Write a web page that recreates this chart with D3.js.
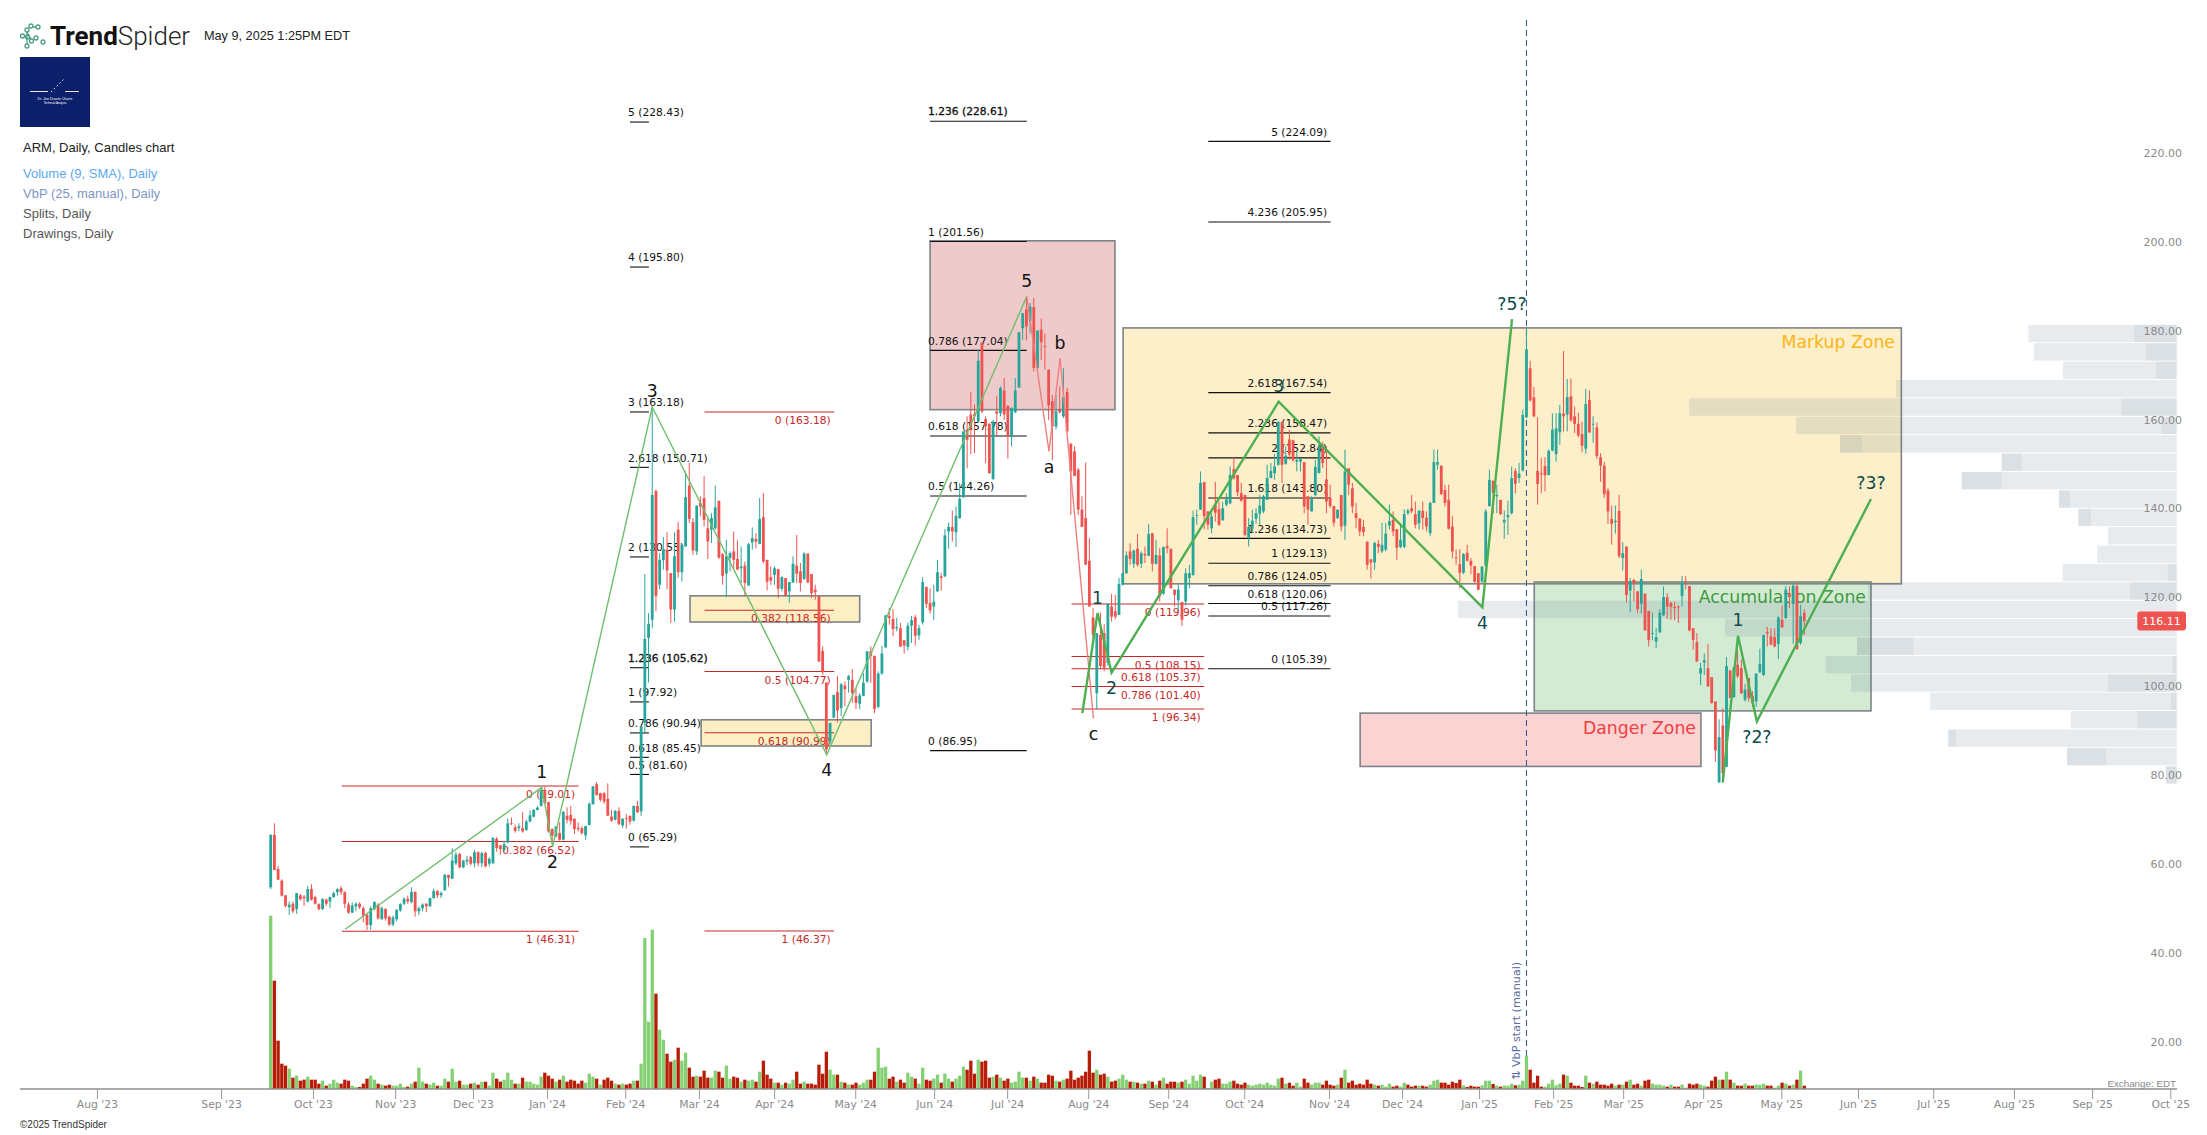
<!DOCTYPE html>
<html><head><meta charset="utf-8">
<script src="https://cdnjs.cloudflare.com/ajax/libs/d3/7.8.5/d3.min.js"></script>
<style>html,body{margin:0;padding:0;background:#fff;overflow:hidden}svg{display:block}</style>
</head><body><div id="chart"></div>
<script>
// Daily candles [open, high, low, close], ARM
const candles=[
[56.2,68.1,55.8,68],[68,70.6,60.1,60.1],[60.3,61,57.9,57.9],[57.7,58,54.1,54.3],[54.4,54.4,51.7,52],[51.7,53,50,52.3],[52.5,53,50.4,50.8],[51.3,54.9,50.2,54.9],[54.4,54.7,53.2,53.5],[54.1,54.5,52,53.7],
[53,56.5,52.8,55.8],[55.8,56.9,53.2,53.4],[54,54.3,52.3,52.5],[52.4,52.6,51,51.3],[51.3,53.7,51.1,53.6],[53.4,53.7,52,52.5],[53,54.1,51.5,54],[54,55.2,53.8,54.9],[55.1,56,54.3,55.8],[56,56.5,54.5,55.1],
[55.1,55.3,51.5,52.5],[52.3,52.8,50.2,50.5],[50.5,52.8,50.4,52.1],[51.9,52.8,50.8,52.5],[52.5,52.8,51.3,51.7],[51.5,51.9,48.3,49.8],[50,50.4,46.6,47.7],[47.7,51.9,46.6,51.5],[51.3,53,51,52.9],[52.3,52.6,48.9,49.2],
[49,51.9,48.9,51.5],[51.3,51.5,48.7,49.2],[49.6,49.8,47.5,47.8],[47.8,49.8,47.4,49.4],[49,51.3,48.5,51.1],[51,52.6,50.7,52.4],[52.5,54,52.2,53.6],[53.6,54.3,52.5,53],[52.9,56.2,52.6,55.1],[55.2,55.2,49.6,50.8],
[50.8,51.9,50,51.5],[51.5,52.6,50.8,52.3],[52.5,52.6,50.6,51.9],[51.9,53.8,51.9,53.8],[53.8,55.9,53.6,55.4],[55.3,55.6,53.8,54.4],[54.4,55.3,53.8,54.9],[55.5,59.2,55.5,59],[59,59,56.4,58.3],[58.1,65,58.1,62.2],
[61.6,64.2,61.2,63.6],[63.7,63.9,60.5,60.7],[60.7,62.4,60.5,62.2],[62,63.3,61.2,62.4],[63,63.3,61.1,61.5],[61.6,64.6,60.7,64.1],[64.1,64.3,60.9,61.6],[61.6,64.2,60.7,63.9],[63.9,64.2,60.7,60.9],[61.5,63,60.9,62.6],
[61.6,67.5,61.5,67.3],[67.1,67.5,64.2,65],[65.6,65.8,63.5,64.8],[64.6,66.7,64.2,65.9],[66.3,71.7,66.1,70.6],[70.6,71.9,70.2,70.5],[69.7,70.3,68.5,68.9],[69.5,70.6,68.8,69.9],[69.5,73.1,68.5,68.8],[69.1,71.4,68.9,71],
[71,73.5,70.8,72.4],[72.1,73.8,71.9,73.6],[73.6,74.5,73.5,74.1],[74.5,78.7,74.4,78],[77.8,78.9,75,75.1],[75.4,75.4,68.5,68.8],[69.3,69.5,66.5,67.8],[67.6,69.9,67.5,69.9],[68.4,70.8,66.7,66.9],[66.9,73.3,66.7,73.2],
[72.3,74.2,70.6,71.4],[72.5,74.5,70.3,71.1],[71.6,71.8,68.2,69.3],[69.6,70.8,68.8,69.3],[69.5,69.9,68,68.4],[67.9,70,66.9,70],[70.2,75.3,70.2,75],[74.9,79,74.8,78.9],[79.4,79.9,76.8,77],[77.4,77.5,75.5,75.9],
[77.4,77.6,75,75.5],[76.1,79.6,72.3,72.3],[72.1,73.6,70.9,71.2],[71.4,73.6,71.2,73.4],[73.4,74.2,70.2,70.4],[70.1,71.8,69.6,71.6],[71.8,72.7,69.4,71.6],[72.3,72.3,70.3,71],[71.2,74.6,71,74.5],[74.5,75.7,72.9,73.1],
[73.3,92.4,72.3,92.4],[93.2,126.7,90.9,112.1],[112.3,117.9,102.3,115.5],[116.4,164.4,114.5,144.5],[145.4,145.7,118.3,121.8],[124.3,131.4,123.3,129.9],[129.8,135,127.7,132.2],[132.2,136.1,123.3,127.5],[126.9,126.9,115.7,118.7],[118.7,136.1,116,130.7],
[136.7,138.4,125.9,127.1],[127.1,133.3,125,133.3],[132.9,149.8,132.9,144],[146.6,151.7,138.2,139.1],[138.4,139.3,131,132],[131.8,142.1,131,142.1],[142.7,144.2,139.7,141.9],[143.8,148.7,137.4,138.9],[137,139.3,130.1,134],[136.7,140.4,133.7,139.3],
[137,146.6,136.7,141.7],[143.2,143.2,130.1,130.4],[131.2,131.4,124.3,126.3],[126.8,134.4,121.5,130.7],[130.3,131.8,127.3,131.4],[131.8,136.3,127.7,129.9],[130.1,134.3,127.7,127.7],[128,132.9,124.7,128.4],[128.6,129.5,121.7,124.7],[124.1,133.7,124.1,133.4],
[133.8,137.2,132.2,134.8],[134.6,135.9,132.5,134],[133.5,143.8,133.4,139.1],[139.5,144.9,129.2,129.5],[129.9,129.9,123,125],[126,128.4,124.3,125.2],[126.5,128.4,124.3,128],[127.8,127.8,121.3,123.4],[123.4,126.2,122.8,126],[125.8,125.8,121.7,121.9],
[122.8,125,120.2,124.9],[124.8,130.7,124.7,129],[128.6,135.5,124.7,126.8],[127.3,129.2,122.8,124.7],[125.6,131.6,125.4,131.3],[131.3,131.3,124.7,124.8],[126.7,126.7,121.3,122.4],[123.2,124.3,120.9,122.6],[121.7,121.7,107,107],[109.4,110.4,104,104.6],
[102.3,102.3,86.4,87.2],[89,93.2,88.3,93.2],[94.4,99.5,94.3,99.5],[100.1,103.8,93.3,96],[96.5,102.2,94.7,101.9],[101.6,102.5,96.9,100.8],[102.9,104,100,103.7],[102.9,105.3,97.7,99.9],[99.2,101,96.3,97.7],[97.5,99.9,96.3,99.4],
[99.3,104.4,99.2,102.2],[102.5,109.3,102.2,109.3],[109.3,110.4,102.2,108.3],[108.3,108.3,95.4,96.3],[96.8,104.8,96.5,104.3],[104.3,110.5,104,108.8],[110.2,117.5,110,117.4],[117.2,119,115.3,116.8],[116.6,118.8,112.7,114.3],[114.5,116.8,113.8,114.8],
[114.5,115.7,110.3,110.4],[111.8,111.9,108.8,110.6],[110.3,115.8,109.5,115.1],[115.1,117.3,111.2,116.3],[117,117.5,110.6,112.8],[112.9,115.3,111.9,114.5],[115.8,126,115.3,124.9],[123.8,123.8,119,120],[120.2,123.5,117.8,118.5],[119.4,124.3,116.3,120.5],
[122.8,129.9,122.7,127.1],[126.2,127,123,125.8],[126.2,136.8,126,135.4],[136.3,138.3,132.4,137.3],[137.3,141,134,136.3],[136.1,141.9,132.8,139.8],[139.3,147.2,139.1,143.6],[144,158.8,143.8,158.8],[159.2,162.2,150.5,156.9],[162.6,167.7,153.7,159.2],
[162.7,164.8,153.9,162.2],[161,177.3,160.7,174.7],[178.8,178.8,162.9,163.3],[161.6,162.2,151.7,159.9],[160.5,160.7,149.3,149.4],[148.1,161.4,147.9,161],[163.3,166.8,157.7,162.8],[162.9,168.9,162.2,168.6],[168,170.8,161.4,162.6],[164.6,164.6,152.7,157.7],
[157.5,164.2,155.4,164.1],[163.1,170.8,162.9,168],[168.7,181.1,168.6,181.1],[182,185.4,179.4,185.4],[186.3,189.2,179.3,182.4],[183.6,187.7,180.9,186.9],[186.8,188.8,172.3,173.1],[173.1,181.5,172.7,181.5],[181.7,184.2,174.9,178.9],[178,180.9,172.7,177.8],
[172.7,172.7,161.4,164.7],[165.6,167,152.3,159.9],[159.9,167,159.2,163.3],[163.7,168.9,162.8,163.1],[162.2,173,161.8,166.5],[167.7,168.6,158.7,158.8],[156,156.2,140,149.8],[154.3,155.4,148.7,148.8],[150.2,150.6,140,141.2],[141.2,144.2,137.3,137.3],
[139.3,151.8,128.8,128.8],[129.7,134.8,119.4,119.4],[116.9,119,110.8,113],[99.9,113.4,96.3,113.4],[113,118,105.2,106],[113.4,115.4,104.8,105.6],[106.7,120.1,106,120],[119.4,122.2,116,117.1],[118.3,122,116.5,117.1],[117.5,125.8,117.5,124.5],
[124.3,126.9,124.1,126.9],[126.9,131.8,126.7,130.9],[131.8,133.6,128.8,130.1],[129,132.2,128,132],[132.4,135.7,128.4,128.8],[129,131.8,128,131.4],[131.2,132.9,129.2,130.9],[130.8,138,130.7,135.7],[135.9,135.9,127.3,129],[129,134.4,128.8,131],
[130.9,132.5,120.5,121.7],[122.3,132.8,122,132.8],[133,137,131.4,132.5],[132.4,132.4,123.5,123.5],[123.2,123.2,119.4,122],[120.8,124.3,118.3,123.2],[120.4,120.4,115,116.4],[120.5,128,119.6,126.9],[125.8,128.8,123.5,126.9],[126.5,141,126.3,139.5],
[139.9,141.2,137.8,140],[141.2,149.8,141.2,147.2],[147.4,147.4,136.8,139.7],[140.8,140.8,136.7,137.8],[137,140.4,135.9,139.7],[142.3,147.5,138.5,140.5],[141.3,143,137.5,137.8],[138.8,143,138.7,141.5],[142.3,144.9,141.9,143.5],[142.6,150.9,142.5,149],
[150.3,153,147.9,148.3],[149,149,144.2,145.1],[144.9,147.2,143,143.2],[144.5,144.5,135.2,135.5],[135,139.3,132.9,137.3],[136.9,141.2,135.9,138.7],[139.1,141.5,138,140.4],[140.3,144.5,137.8,142.1],[140.8,144.5,140.4,144.2],[143.4,151.3,143.4,148.3],
[148.3,151.7,148.3,149.9],[149.4,153.7,147.9,150.9],[151.3,161,151.1,161],[160.9,161,147.2,151.3],[151.5,155.4,151.3,153.3],[157,159.2,152.4,153.6],[156.8,156.9,152,152.3],[152,154.7,149.8,152.4],[152,152.8,149.8,152.6],[151.9,151.9,140.4,141.9],
[144.2,144.2,137.8,141.2],[140.8,144.2,140.8,143.8],[144.5,152.4,144.2,150.8],[149.4,157.7,149.4,155.4],[155,156.5,150.5,151.7],[148,155.4,140.4,143],[143.8,146.8,141.6,142],[142,142,137.4,138.3],[139.3,141.2,139.1,141.2],[144.5,144.5,136.3,137.4],
[137.6,154.7,134.4,149.8],[150.5,150.5,144.5,146.8],[146,147.2,140.4,141.9],[140.4,142.7,137,139.3],[139.2,139.2,135.2,136.3],[137.3,138.9,135.2,136.1],[134,134,127.7,128.8],[130,130.1,125.7,129.3],[129.3,134,127.7,133.7],[133.5,134.4,131.4,132.8],
[131.8,138.2,131.4,133.3],[132.2,138.2,131.8,135.8],[137.6,142.3,136.7,138.6],[138.9,140.8,135.2,136.3],[136.8,136.8,129.8,132.6],[132.8,138.2,132.5,134.4],[132.8,141.3,132.5,140.2],[140.4,141.4,140,141],[141.5,144.5,140.4,140.8],[140.2,143,137,137.8],
[138.1,141.2,136.7,140.9],[140.9,143,136.7,139.3],[139.4,140.8,136.3,137.4],[135.9,143,135.2,142.7],[142.7,154.7,142.7,151.9],[151.3,154.7,150.2,151.9],[151.1,151.1,144.5,144.7],[145.6,146.8,141.9,142.7],[143.4,146.8,136.7,136.9],[137.4,139.7,130.3,131.8],
[130.4,132.2,128.8,130.2],[128.9,132.3,123.5,127],[127,131.4,126.7,131.2],[131.5,133.3,129.5,129.7],[129.7,130.3,126.7,128.6],[128.5,128.5,124.7,125],[126.9,126.9,123,123.2],[125,128.4,124.7,128.4],[128.6,141.3,128.4,140.8],[142,150.2,141.9,147.9],
[147.7,147.7,140.4,145],[144.2,146.8,140.4,144.5],[143.4,143.4,140,140.2],[138.3,141,134.6,138.9],[139.5,143.2,135.5,140],[140.4,150.9,140.1,148.3],[149.9,150.5,144.9,147],[148.3,151.7,147.2,149.3],[150,163.7,149.8,162.5],[162,182,161.8,177.3],
[173,174.7,165.5,165.8],[166.5,168.8,162,162.2],[149.9,162,142.3,147],[149.4,152.8,144.9,149.1],[151,153,145.3,148.9],[149,154.8,148.9,154.4],[154.5,162.9,154.3,159.2],[153.7,162.9,152,159.5],[158.6,164.8,155.8,162.9],[162.8,176.9,158.8,162.2],
[162.6,170.6,158.8,166.5],[166.7,170.7,161,161.3],[162.2,164.4,158.4,160.5],[160.5,163,157.5,157.9],[158.2,161,154.1,155.6],[154.9,168.4,153.8,165],[165.9,168,158.4,158.6],[160.5,162.2,156.2,160.5],[159.7,160.8,152.6,153.3],[153,153.9,147.5,151.1],
[151.1,151.9,143.8,144.7],[145.5,146,138,140.8],[139.1,142.1,133.3,138],[138.4,142.1,135.8,138.7],[140.9,144.5,130.3,130.7],[130.3,133.9,127.5,131.4],[132.9,132.9,120.3,122],[123,125.8,118.1,125],[125.4,125.6,120.6,124.5],[122.8,122.8,117.9,118.8],
[120,127.7,117.8,125.6],[122.3,122.3,114,114],[118.4,118.4,110.4,111.8],[113.2,118,111.8,113.4],[111.5,114.5,110,112.5],[113.6,118.8,113.4,118],[117.4,123.9,117.3,121.5],[121.5,122.4,116.6,119.4],[120.2,120.5,116.4,119.3],[119.3,120.5,116.3,119],
[119.4,119.6,115.7,119.2],[121.8,126.3,119.4,124.7],[124.7,126.2,123.3,124.5],[124,124,113.8,114],[114.5,114.5,109.7,111.9],[111.4,113.4,107,107],[104.3,106.7,101.7,105.5],[106.8,108.8,104,107.3],[105.5,111,101.4,101.4],[103.5,103.5,97.5,97.7],
[98,98,84.5,87],[79.8,94,79.7,90],[92.6,96.5,79.7,81.9],[83.3,108,83.3,106],[105,105,98.8,98.8],[99,105.9,98.8,105.7],[106.3,109.5,103.3,103.7],[105.5,107.4,99.7,99.9],[98.4,102,98,100.7],[103.3,103.3,98,98.8],
[99.3,100.3,96.8,97.7],[98,104.3,96.8,104.3],[104.6,109.9,104.4,106.4],[104,113,103.7,113],[113.6,114.8,110.4,113.3],[112.7,114.5,110.7,110.8],[112.5,114.5,110.2,110.4],[111,117.2,107.6,116.9],[116.4,119.6,114.6,114.7],[116.8,124,116.6,123.2],
[122.3,123.9,119,121.5],[120,124.4,111,124.1],[124,124.7,109.7,109.8],[111.2,119.8,110.8,117.2],[118,118.8,113,116.1]];

// Volume per bar in lots of 250k shares; the sign gives the bar colour (+ up, - down)
const signedVolume=[
520,-325,-145,-76,-70,61,-34,40,-25,-28,37,-28,-28,-16,25,-10,16,28,19,-16,
-28,-25,10,6,-6,-16,-31,40,28,-16,13,-10,-13,10,10,16,6,-7,16,-22,
64,22,-16,13,19,-10,10,31,-22,61,22,-25,13,13,-16,19,-13,22,-22,10,
49,-31,-22,28,49,28,-16,16,-34,22,22,16,13,37,-49,-40,-31,22,-28,40,
-22,-28,-25,-16,-25,19,46,37,-31,13,-28,-34,-25,16,-13,16,-13,-16,25,-25,
76,453,202,478,-286,178,148,-106,-82,88,-124,85,109,-64,-37,40,-37,-55,-34,34,
55,-52,-34,70,31,-37,-34,22,-28,25,28,-22,52,-85,-43,-31,19,-19,13,-19,
16,28,-52,-16,22,-16,-16,-13,-73,-46,-112,58,43,-43,22,-19,13,
-13,-19,13,19,28,-28,-52,124,64,67,-31,-37,22,-28,-19,49,37,-31,16,64,
-28,-25,31,43,-19,46,31,-22,31,40,67,-58,-85,-46,88,-82,-85,-34,37,-43,
34,-25,-31,19,22,52,34,-34,25,-37,31,-19,-19,-43,-40,25,-22,28,-31,-55,
-28,-34,-40,-52,-115,-49,58,-43,-46,37,-22,-25,31,43,28,-22,22,-19,16,-16,
25,-22,13,-25,34,-16,-22,-22,19,-22,28,16,40,25,43,-37,3,22,-28,-31,
16,16,22,-25,-16,-13,-19,13,10,13,16,13,19,13,10,31,-34,16,-19,-10,
19,7,-31,-19,13,19,19,-13,-25,-13,-10,13,-34,58,-19,-25,-13,-16,-13,-28,
-16,13,-10,13,7,16,-7,-10,7,19,-13,-7,-10,10,-10,-7,13,25,28,-19,-19,-13,
-22,-18,-28,11,-6,-10,-7,-7,11,25,25,-15,10,-7,10,10,16,-11,13,25,
100,-58,-19,-40,-7,7,16,28,11,16,-43,40,-19,-10,-10,-6,40,-19,16,-22,
-13,-13,-10,-16,10,-13,13,-22,28,-13,-16,10,-25,-28,16,13,13,10,-7,13,
-7,-7,13,4,-16,-13,-16,13,10,-7,-25,-37,28,-28,52,-28,19,-10,-10,16,
-10,-10,13,13,16,-10,-10,4,10,-19,16,-10,13,-28,55,-10];

// Month ticks, positioned in trading-bar units
const monthLabels=["Aug '23","Sep '23","Oct '23","Nov '23","Dec '23","Jan '24","Feb '24","Mar '24","Apr '24","May '24","Jun '24","Jul '24","Aug '24","Sep '24","Oct '24","Nov '24","Dec '24","Jan '25","Feb '25","Mar '25","Apr '25","May '25","Jun '25","Jul '25","Aug '25","Sep '25","Oct '25"];
const monthBars=[-46.9,-13.4,11.4,33.6,54.6,74.6,95.7,115.6,135.9,157.8,179.1,198.8,220.7,242.3,262.8,285.7,305.4,326.2,346.2,365.1,386.7,407.8,428.5,448.8,470.6,491.7,512.8];
const priceTicks=[20,40,60,80,100,120,140,160,180,200,220];

// Volume by price, top row first: row total and the darker part of each row
const vbpTotal=[148.4,142.7,113.7,280.7,487.7,380.7,336.7,175,215,117.7,98.4,68.7,79.4,114,308.7,718.7,451.7,319.7,351,325.7,246.4,105.7,228.4,109.7,10.7];
const vbpDarkFrom=[0,0,0,0,0,0,314.7,155,175,106.7,85.7,0,0,0,0,0,0,263.4,0,0,0,0,220.7,70.7,0];
const vbpDarkTo=[42.7,30.7,20.7,0,55.4,15,336.7,175,215,117.7,98.4,0,0,9,46.7,0,0,319.7,4.4,68.7,5.7,39.4,228.4,109.7,10.7];
const vbpTopPrice=182.8, vbpBinSize=4.14;
const lastPrice=116.11, vbpStartBar=339;

// Zones: label, first bar, last bar, top price, bottom price
const zoneNames=["","","","Markup Zone","Accumulation Zone","Danger Zone"];
const zoneFills=["#eecaca","#fcefc4","#fcefc4","#fcefca","rgba(98,180,98,.28)","#fcd3d3"];
const zoneBars=[[178,227.9],[113.2,159],[116.2,162.1],[230.1,440.2],[341.1,432],[294.1,386.1]];
const zonePrices=[[201.7,163.7],[121.8,115.9],[93.9,88],[182.1,124.5],[124.9,95.9],[95.4,83.4]];
const zoneColors=["","","","#fdb515","#3f9a3f","#ee4040"];

// Fibonacci sets: bar span, alignment, levels
const fibBlack=[
 {span:[97,102.1],anchor:"start",levels:[[5,228.43],[4,195.80],[3,163.18],[2.618,150.71],[2,130.55],[1.236,105.62],[1,97.92],[0.786,90.94],[0.618,85.45],[0.5,81.60],[0,65.29]]},
 {span:[178,204.1],anchor:"start",levels:[[1.236,228.61],[1,201.56],[0.786,177.04],[0.618,157.78],[0.5,144.26],[0,86.95]]},
 {span:[253.1,286.1],anchor:"end",levels:[[5,224.09],[4.236,205.95],[2.618,167.54],[2.236,158.47],[2,152.84],[1.618,143.80],[1.236,134.73],[1,129.13],[0.786,124.05],[0.618,120.06],[0.5,117.26],[0,105.39]]}];
const fibRed=[
 {span:[19.2,83.1],anchor:"end",levels:[[0,79.01],[0.382,66.52],[1,46.31]]},
 {span:[117.1,152.1],anchor:"end",levels:[[0,163.18],[0.382,118.56],[0.5,104.77],[0.618,90.99],[1,46.37]]},
 {span:[216.2,252],anchor:"end",levels:[[0,119.96],[0.5,108.15],[0.618,105.37],[0.786,101.40],[1,96.34]]}];

// Wave drawings: [bar, price, label, label side]
const waveImpulseA=[[20.1,46.75,"",0],[73.2,78.7,"1",-1],[76.1,65.3,"2",1],[103,164.3,"3",-1],[150.1,86,"4",1],[204.1,189.2,"5",-1]];
const waveCorrection=[[204.1,189.2,"",0],[210.1,154.3,"a",1],[213.1,175.3,"b",-1],[222.1,94.2,"c",1]];
const waveImpulseB=[[219.1,95.4,"",0],[223.2,117.9,"1",-1],[227,104.5,"2",1],[272.1,165.5,"3",-1],[327.1,119.2,"4",1],[335.1,184.1,"?5?",-1]];
const waveProjected=[[392,79.8,"",0],[396.1,112.8,"1",-1],[401.2,93.5,"?2?",1],[432,143.6,"?3?",-1]];

const W=2207,H=1135;
const FONT="'DejaVu Sans',sans-serif", HEAD="'Liberation Sans',Arial,sans-serif";
const svg=d3.select("#chart").append("svg").attr("width",W).attr("height",H).attr("viewBox",`0 0 ${W} ${H}`);
svg.append("rect").attr("width",W).attr("height",H).attr("fill","#fff");

const x=d3.scaleLinear().domain([0,414]).range([270.7,1804.3]);
const y=d3.scaleLinear().domain([10.8,255.9]).range([1089,0]);
const vol=d3.scaleLinear().domain([0,520]).range([1089,915.7]);
const vbpX=d3.scaleLinear().domain([0,718.7]).range([2176.7,1458]);

/* header */
const logo=svg.append("g").attr("fill","none").attr("stroke","#4f9e86").attr("stroke-width",1.3);
[[22.5,36],[27,30],[27.5,37],[27,46],[31,26],[31.5,41],[38,27],[36,38],[43,42]].forEach(d=>logo.append("circle").attr("cx",d[0]).attr("cy",d[1]).attr("r",2));
logo.append("path").attr("d","M27 32V44M27 32L31 39M33 27L36 27");
const brand=svg.append("text").attr("x",50).attr("y",44.5).attr("font-family","Roboto,sans-serif").attr("font-size",26).attr("fill","#111");
brand.append("tspan").attr("font-weight",700).text("Trend");
brand.append("tspan").attr("font-weight",300).attr("fill","#222").text("Spider");
svg.append("text").attr("x",204).attr("y",40).attr("font-family",HEAD).attr("font-size",12.7).attr("fill","#222").text("May 9, 2025 1:25PM EDT");
svg.append("rect").attr("x",20).attr("y",57).attr("width",70).attr("height",70).attr("fill","#0c1f6a");
const badge=svg.append("g").attr("stroke","#fff").attr("fill","none");
badge.append("path").attr("stroke-width",.9).attr("d","M30 91.5H48M65 91.5H79");
badge.append("path").attr("stroke-width",1).attr("stroke-dasharray","1.5 2.5").attr("d","M51 92L65 78");
svg.append("text").attr("x",55).attr("y",100).attr("text-anchor","middle").attr("font-family",HEAD).attr("font-size",3.6).attr("fill","#fff").text("Dr. Joe Duarte Charts");
svg.append("text").attr("x",55).attr("y",103.5).attr("text-anchor","middle").attr("font-family",HEAD).attr("font-size",2.8).attr("fill","#fff").text("Technical Analysis");
const legendNames=["ARM, Daily, Candles chart","Volume (9, SMA), Daily","VbP (25, manual), Daily","Splits, Daily","Drawings, Daily"];
const legendColors=["#222","#5ba8f0","#7b96c4","#555","#555"];
const legendRows=[152,178,198,218,238];
svg.selectAll("text.legend").data(legendNames).join("text").attr("class","legend")
 .attr("x",23).attr("y",(d,i)=>legendRows[i]).attr("font-family",HEAD).attr("font-size",13)
 .attr("fill",(d,i)=>legendColors[i]).text(d=>d);
svg.append("text").attr("x",20).attr("y",1128).attr("font-family",HEAD).attr("font-size",10).attr("fill","#333").text("©2025 TrendSpider");
svg.append("text").attr("x",2176).attr("y",1086.5).attr("text-anchor","end").attr("font-family",HEAD).attr("font-size",9.8).attr("fill","#888").text("Exchange: EDT");

/* zones */
const zoneG=svg.append("g");
zoneNames.forEach((n,i)=>{
  const x0=x(zoneBars[i][0]),x1=x(zoneBars[i][1]),y0=y(zonePrices[i][0]),y1=y(zonePrices[i][1]);
  zoneG.append("rect").attr("x",x0).attr("y",y0).attr("width",x1-x0).attr("height",y1-y0)
    .attr("fill",zoneFills[i]).attr("stroke","#7d8387").attr("stroke-width",1.6);
});

/* fib sets */
function drawFib(g,sets,color,labelDy,strokeBold){
  sets.forEach(s=>{
    const xa=x(s.span[0]),xb=x(s.span[1]);
    s.levels.forEach(l=>{
      g.append("line").attr("x1",xa).attr("x2",xb).attr("y1",y(l[1])).attr("y2",y(l[1])).attr("stroke",color).attr("stroke-width",1.1);
      const lx=s.anchor==="start"?xa-2:xb-3.4;
      const t=g.append("text").attr("x",lx).attr("y",y(l[1])+labelDy).attr("text-anchor",s.anchor)
        .attr("dominant-baseline","central").attr("font-family",FONT).attr("font-size",10.7).attr("fill",color)
        .text(`${l[0]} (${l[1].toFixed(2)})`);
      if(strokeBold && l[0]===1.236 && s.anchor==="start") t.attr("stroke",color).attr("stroke-width",.3);
    });
  });
}
const fibG=svg.append("g");
drawFib(fibG,fibBlack,"#111",-9.3,true);
drawFib(fibG,fibRed,"#c62828",8.7,false);

/* zone labels */
const zoneLabelX=[0,0,0,1895,1866,1696],zoneLabelDy=[0,0,0,14.5,14.5,14.5];
zoneNames.forEach((n,i)=>{ if(!n) return;
  svg.append("text").attr("x",zoneLabelX[i]).attr("y",y(zonePrices[i][0])+zoneLabelDy[i]).attr("text-anchor","end")
    .attr("dominant-baseline","central").attr("font-family",FONT).attr("font-size",17.3).attr("fill",zoneColors[i]).text(n);
});

/* volume by price */
const vbpG=svg.append("g");
const rowTop=i=>y(vbpTopPrice-i*vbpBinSize);
vbpTotal.forEach((v,i)=>{
  const h=y(vbpTopPrice-vbpBinSize)-y(vbpTopPrice)-1;
  vbpG.append("rect").attr("x",vbpX(v)).attr("y",rowTop(i)).attr("width",vbpX(0)-vbpX(v)).attr("height",h).attr("fill","rgba(92,118,140,.145)");
  if(vbpDarkTo[i]>vbpDarkFrom[i]){
    vbpG.append("rect").attr("x",vbpX(vbpDarkTo[i])).attr("y",rowTop(i)).attr("width",vbpX(vbpDarkFrom[i])-vbpX(vbpDarkTo[i])).attr("height",h).attr("fill","rgba(92,118,140,.085)");
  }
});

/* VbP start marker */
svg.append("line").attr("x1",x(vbpStartBar)).attr("x2",x(vbpStartBar)).attr("y1",20).attr("y2",1089)
  .attr("stroke","#3c5c9a").attr("stroke-width",1.1).attr("stroke-dasharray","6 4");
svg.append("text").attr("transform",`translate(${x(vbpStartBar)-6},1080) rotate(-90)`).attr("font-family",FONT).attr("font-size",11.2).attr("fill","#5b6f9f")
  .text("⇅ VbP start (manual)");

/* volume */
svg.append("g").selectAll("rect").data(signedVolume).join("rect")
  .attr("x",(d,i)=>x(i)-1.65).attr("width",3.3)
  .attr("y",d=>vol(Math.abs(d))).attr("height",d=>vol(0)-vol(Math.abs(d)))
  .attr("fill",d=>d>=0?"#85d073":"#b71c06");

/* candles */
const UP="#26a69a",DOWN="#ef5350";
const cg=svg.append("g");
cg.selectAll("line").data(candles).join("line")
  .attr("x1",(d,i)=>x(i)).attr("x2",(d,i)=>x(i)).attr("y1",d=>y(d[1])).attr("y2",d=>y(d[2]))
  .attr("stroke",d=>d[3]>=d[0]?UP:DOWN).attr("stroke-width",1);
cg.selectAll("rect").data(candles).join("rect")
  .attr("x",(d,i)=>x(i)-1.4).attr("width",2.8)
  .attr("y",d=>y(Math.max(d[0],d[3]))).attr("height",d=>Math.max(.8,Math.abs(y(d[0])-y(d[3]))))
  .attr("fill",d=>d[3]>=d[0]?UP:DOWN);

/* waves */
const wavePath=d3.line().x(d=>x(d[0])).y(d=>y(d[1]));
function drawWave(pts,color,width,labelColor){
  svg.append("path").attr("d",wavePath(pts)).attr("fill","none").attr("stroke",color).attr("stroke-width",width);
  pts.filter(p=>p[2]).forEach(p=>{
    svg.append("text").attr("x",x(p[0])).attr("y",y(p[1])+p[3]*15.5).attr("text-anchor","middle").attr("dominant-baseline","central")
      .attr("font-family",FONT).attr("font-size",17.3).attr("fill",labelColor).text(p[2]);
  });
}
drawWave(waveImpulseA,"#6fbf6f",1.4,"#111");
drawWave(waveCorrection,"#ef8080",1.4,"#111");
drawWave(waveImpulseB,"#4caf50",2.4,"#0d4a4a");
drawWave(waveProjected,"#4caf50",2.4,"#0d4a4a");

/* axes */
const xAxis=d3.axisBottom(x).tickValues(monthBars).tickSize(10).tickPadding(1).tickFormat((d,i)=>monthLabels[i]);
const ax=svg.append("g").attr("transform","translate(0,1089)").call(xAxis);
ax.select(".domain").remove();
ax.selectAll("line").attr("stroke","#9a9a9a").attr("stroke-width",1);
ax.selectAll("text").attr("font-family",FONT).attr("font-size",10.8).attr("fill","#8a8a8a");
svg.append("line").attr("x1",20).attr("x2",2177).attr("y1",1089).attr("y2",1089).attr("stroke","#8f8f8f").attr("stroke-width",1.5);

const yAxis=d3.axisRight(y).tickValues(priceTicks).tickSize(0).tickPadding(0).tickFormat(d3.format(".2f"));
const ay=svg.append("g").attr("transform","translate(2182,0)").call(yAxis);
ay.select(".domain").remove();
ay.selectAll("text").attr("text-anchor","end").attr("dy",-3).attr("font-family",FONT).attr("font-size",11).attr("fill","#8a8a8a");

/* last price tag */
svg.append("rect").attr("x",2137.3).attr("y",y(lastPrice)-9.5).attr("width",48.7).attr("height",19).attr("rx",3).attr("fill","#ef5350");
svg.append("text").attr("x",2161.6).attr("y",y(lastPrice)).attr("text-anchor","middle").attr("dominant-baseline","central")
  .attr("font-family",FONT).attr("font-size",11).attr("fill","#fff").text(lastPrice.toFixed(2));
</script></body></html>
